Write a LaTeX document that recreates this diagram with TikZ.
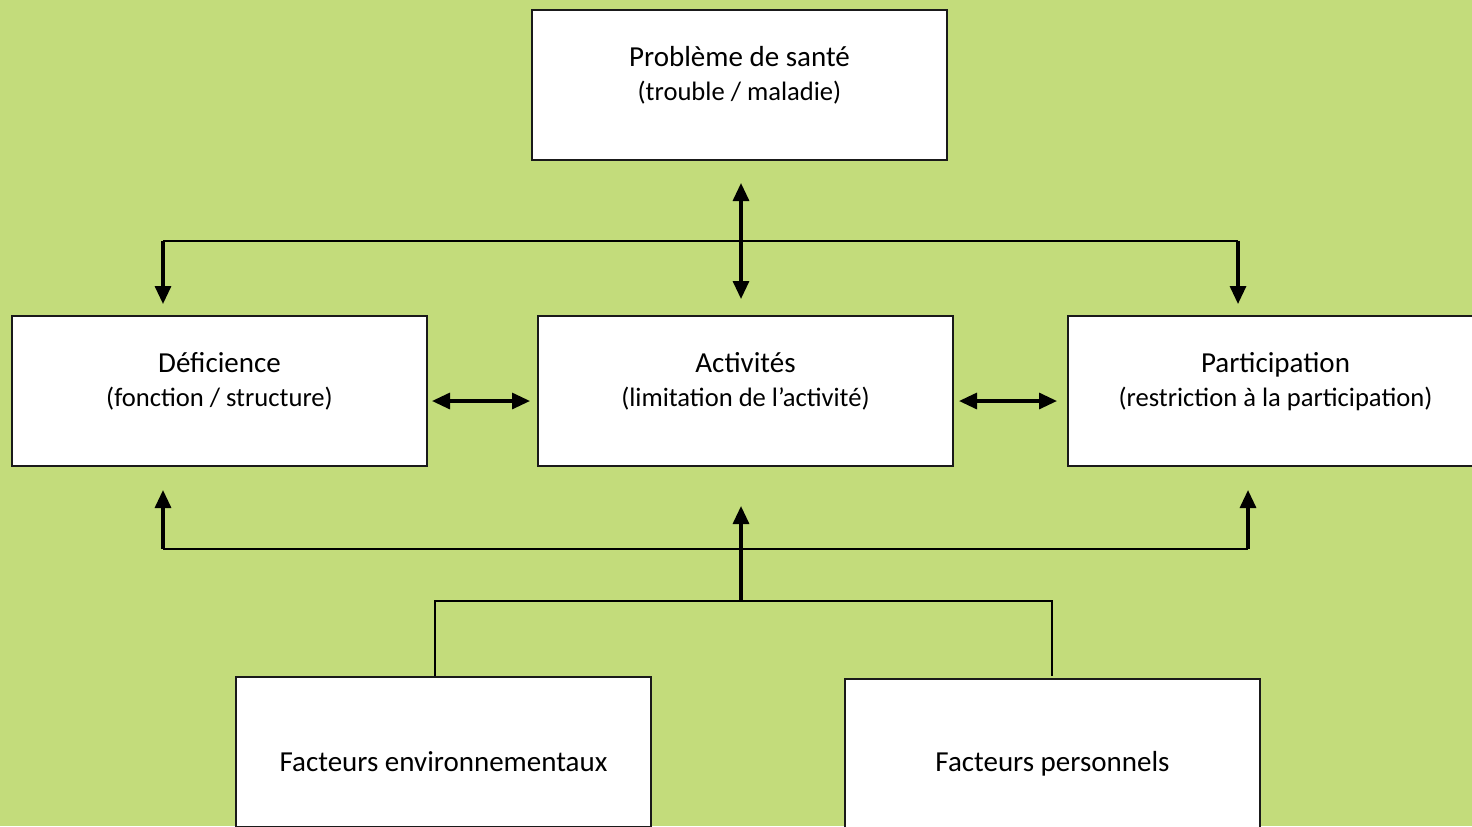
\documentclass[tikz,border=0pt]{standalone}
\usepackage{fontspec}
\setmainfont{Carlito}
\usetikzlibrary{arrows.meta, calc}
\definecolor{bggreen}{HTML}{C3DC7B}
\definecolor{boxline}{HTML}{1A1A1A}

\newcommand{\subline}{\fontsize{13.3}{17}\selectfont}

\begin{document}
\begin{tikzpicture}[
  x=0.5pt, y=-0.5pt,
  >={Triangle[length=9pt, width=8pt]},
  box/.style={draw=boxline, fill=white, line width=1pt, minimum width=207.5pt,
    minimum height=75pt, align=center, inner sep=0pt,
    font=\fontsize{14.5}{17}\selectfont},
  twoline/.style={box, text depth=12pt},
  oneline/.style={box, text height=20pt},
  link/.style={black, line width=1.2pt},
  arr/.style={black, line width=1.6pt, ->},
  dbl/.style={arr, <->},
]

% ══════════════════════════════════════════════════════
% Background
% ══════════════════════════════════════════════════════
\useasboundingbox (0,0) rectangle (1472,826);
\clip (0,0) rectangle (1472,826);
\fill[bggreen] (0,0) rectangle (1472,826);

% ══════════════════════════════════════════════════════
% Boxes
% ══════════════════════════════════════════════════════
\node[twoline] (sante) at (739.5,85)
  {Problème de santé\\ \subline (trouble / maladie)};

\node[twoline] (deficience) at (219.5,391)
  {Déficience\\ \subline (fonction / structure)};
\node[twoline] (activite) at (745.5,391)
  {Activités\\ \subline (limitation de l’activité)};
\node[twoline] (particip) at (1275.5,391)
  {Participation\\ \subline (restriction à la participation)};

\node[oneline] (environ) at (443.5,752) {Facteurs environnementaux};
\node[oneline] (personnel) at (1052.5,754) {Facteurs personnels};

% ══════════════════════════════════════════════════════
% Upper links
% ══════════════════════════════════════════════════════
\coordinate (busT)  at (741,241);
\coordinate (busTL) at (163,241);
\coordinate (busTR) at (1238,241);

\draw[dbl, shorten <=11pt, shorten >=8pt] (busT |- sante.south) -- (busT |- activite.north);
\draw[link] (busTL) -- (busTR);
\draw[arr, shorten >=5.5pt] (busTL) -- (busTL |- deficience.north);
\draw[arr, shorten >=5.5pt] (busTR) -- (busTR |- particip.north);

% side-by-side links
\draw[dbl, shorten <=2pt, shorten >=3.5pt] (deficience.east |- 0,401) -- (activite.west |- 0,401);
\draw[dbl, shorten <=2.5pt, shorten >=5pt] (activite.east |- 0,401) -- (particip.west |- 0,401);

% ══════════════════════════════════════════════════════
% Lower links (context factors)
% ══════════════════════════════════════════════════════
\coordinate (busBL) at (163,549);
\coordinate (busBR) at (1248,549);
\coordinate (fork)  at (741,601);
\coordinate (forkL) at (435,601);
\coordinate (forkR) at (1052,601);

\draw[link] (busBL) -- (busBR);
\draw[arr, shorten >=11.5pt] (busBL) -- (busBL |- deficience.south);
\draw[arr, shorten >=11.5pt] (busBR) -- (busBR |- particip.south);
\draw[arr, shorten >=19.5pt] (fork) -- (fork |- activite.south);

\draw[link] (forkL |- environ.north) -- (forkL) -- (forkR) -- ([yshift=1pt]forkR |- personnel.north);

\end{tikzpicture}
\end{document}
